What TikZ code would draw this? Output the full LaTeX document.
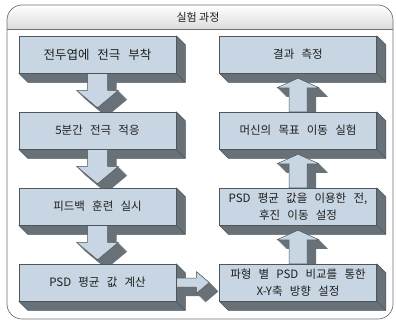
\documentclass[tikz,border=0pt]{standalone}
\usepackage{fontspec}
\setmainfont{Noto Sans CJK KR}[WordSpace=2.8]
\newfontfamily\titlefont{Noto Sans CJK KR}
\usetikzlibrary{positioning, calc}

\definecolor{slabfront}{RGB}{200,213,226}
\definecolor{slabside}{RGB}{104,113,120}
\definecolor{slabedge}{RGB}{78,86,92}
\definecolor{framegray}{RGB}{112,112,112}
\definecolor{bandgray}{RGB}{220,220,220}
\definecolor{inkgray}{RGB}{30,30,30}

\pgfdeclarelayer{back}
\pgfdeclarelayer{depth}
\pgfdeclarelayer{arrows}
\pgfsetlayers{back,depth,arrows,main}

% solid arrow: oblique depth first, then the face
\newcommand\slabarrow[1]{%
  \foreach \k in {0.5,1,...,9}
    {\fill[slabside, transform canvas={shift={(\k pt,-\k pt)}}] #1;}
  \filldraw[fill=slabfront, draw=slabedge, line width=0.5pt, line join=round] #1;}
\newcommand\downslab[2]{\slabarrow{($(#1.south)+(-10,0)$) -- ($(#1.south)+(-10,-17)$)
  -- ($(#1.south)+(-21,-17)$) -- ($(#2.north)+(0,4)$) -- ($(#1.south)+(21,-17)$)
  -- ($(#1.south)+(10,-17)$) -- ($(#1.south)+(10,0)$) -- cycle}}
\newcommand\upslab[2]{\slabarrow{($(#1.north)+(-9,0)$) -- ($(#1.north)+(-9,24)$)
  -- ($(#1.north)+(-21,24)$) -- ($(#2.south)+(0,-5)$) -- ($(#1.north)+(21,24)$)
  -- ($(#1.north)+(9,24)$) -- ($(#1.north)+(9,0)$) -- cycle}}
\newcommand\rightslab[2]{\slabarrow{($(#1.east)+(0,4.5)$) -- ($(#1.east)+(20,4.5)$)
  -- ($(#1.east)+(20,11)$) -- ($(#2.west)+(-10,0)$) -- ($(#1.east)+(20,-11)$)
  -- ($(#1.east)+(20,-4.5)$) -- ($(#1.east)+(0,-4.5)$) -- cycle}}

\begin{document}
\begin{tikzpicture}[x=1pt, y=1pt, node distance=38.5pt,
    slab/.style={rectangle, fill=slabfront, draw=slabedge, line width=0.5pt,
      minimum width=157pt, minimum height=37pt, inner sep=0pt, align=center,
      text=inkgray, font=\fontsize{11.5}{17}\selectfont},
    heading/.style={text=inkgray, font=\titlefont\fontsize{11}{13}\selectfont}
  ]
  \useasboundingbox (0,0) rectangle (396,322);

  % frame and title band
  \begin{pgfonlayer}{back}
    \fill[white] (0,0) rectangle (396,322);
    \shade[top color=white, bottom color=bandgray] (7,293) -- (7,302)
      arc[start angle=180, end angle=90, radius=15] -- (378,317)
      arc[start angle=90, end angle=0, radius=15] -- (393,293) -- cycle;
    \draw[framegray, line width=0.7pt, rounded corners=15pt] (7,3) rectangle (393,317);
    \draw[framegray, line width=0.7pt] (7,293) -- (393,293);
  \end{pgfonlayer}
  \node[heading] (title) at (198,305) {실험 과정};

  % left column, going down
  \node[slab, font=\fontsize{12.5}{14}\selectfont] (L1) at (97.5,267.5) {전두엽에 전극 부착};
  \node[slab] (L2) [below=of L1] {5분간 전극 적응};
  \node[slab] (L3) [below=of L2] {피드백 훈련 실시};
  \node[slab] (L4) [below=of L3] {PSD 평균 값 계산};

  % right column, going up
  \node[slab] (R1) [right=43pt of L1] {결과 측정};
  \node[slab] (R2) [below=of R1] {머신의 목표 이동 실험};
  \node[slab] (R3) [below=of R2] {PSD 평균 값을 이용한 전,\\후진 이동 설정};
  \node[slab] (R4) [below=of R3] {파형 별 PSD 비교를 통한\\X-Y축 방향 설정};

  \begin{pgfonlayer}{depth}
    \foreach \n in {L1,L2,L3,L4,R1,R2,R3,R4}
      {\filldraw[fill=slabside, draw=slabedge, line width=0.5pt, line join=round]
        (\n.north east) -- ($(\n.north east)+(9,-9)$) -- ($(\n.south east)+(9,-9)$)
        -- ($(\n.south west)+(9,-9)$) -- (\n.south west) -- (\n.south east) -- cycle;
       \draw[slabedge, line width=0.5pt] (\n.south east) -- ++(9,-9);}
  \end{pgfonlayer}

  \begin{pgfonlayer}{arrows}
    \downslab{L1}{L2}
    \downslab{L2}{L3}
    \downslab{L3}{L4}
    \rightslab{L4}{R4}
    \upslab{R4}{R3}
    \upslab{R3}{R2}
    \upslab{R2}{R1}
  \end{pgfonlayer}
\end{tikzpicture}
\end{document}
